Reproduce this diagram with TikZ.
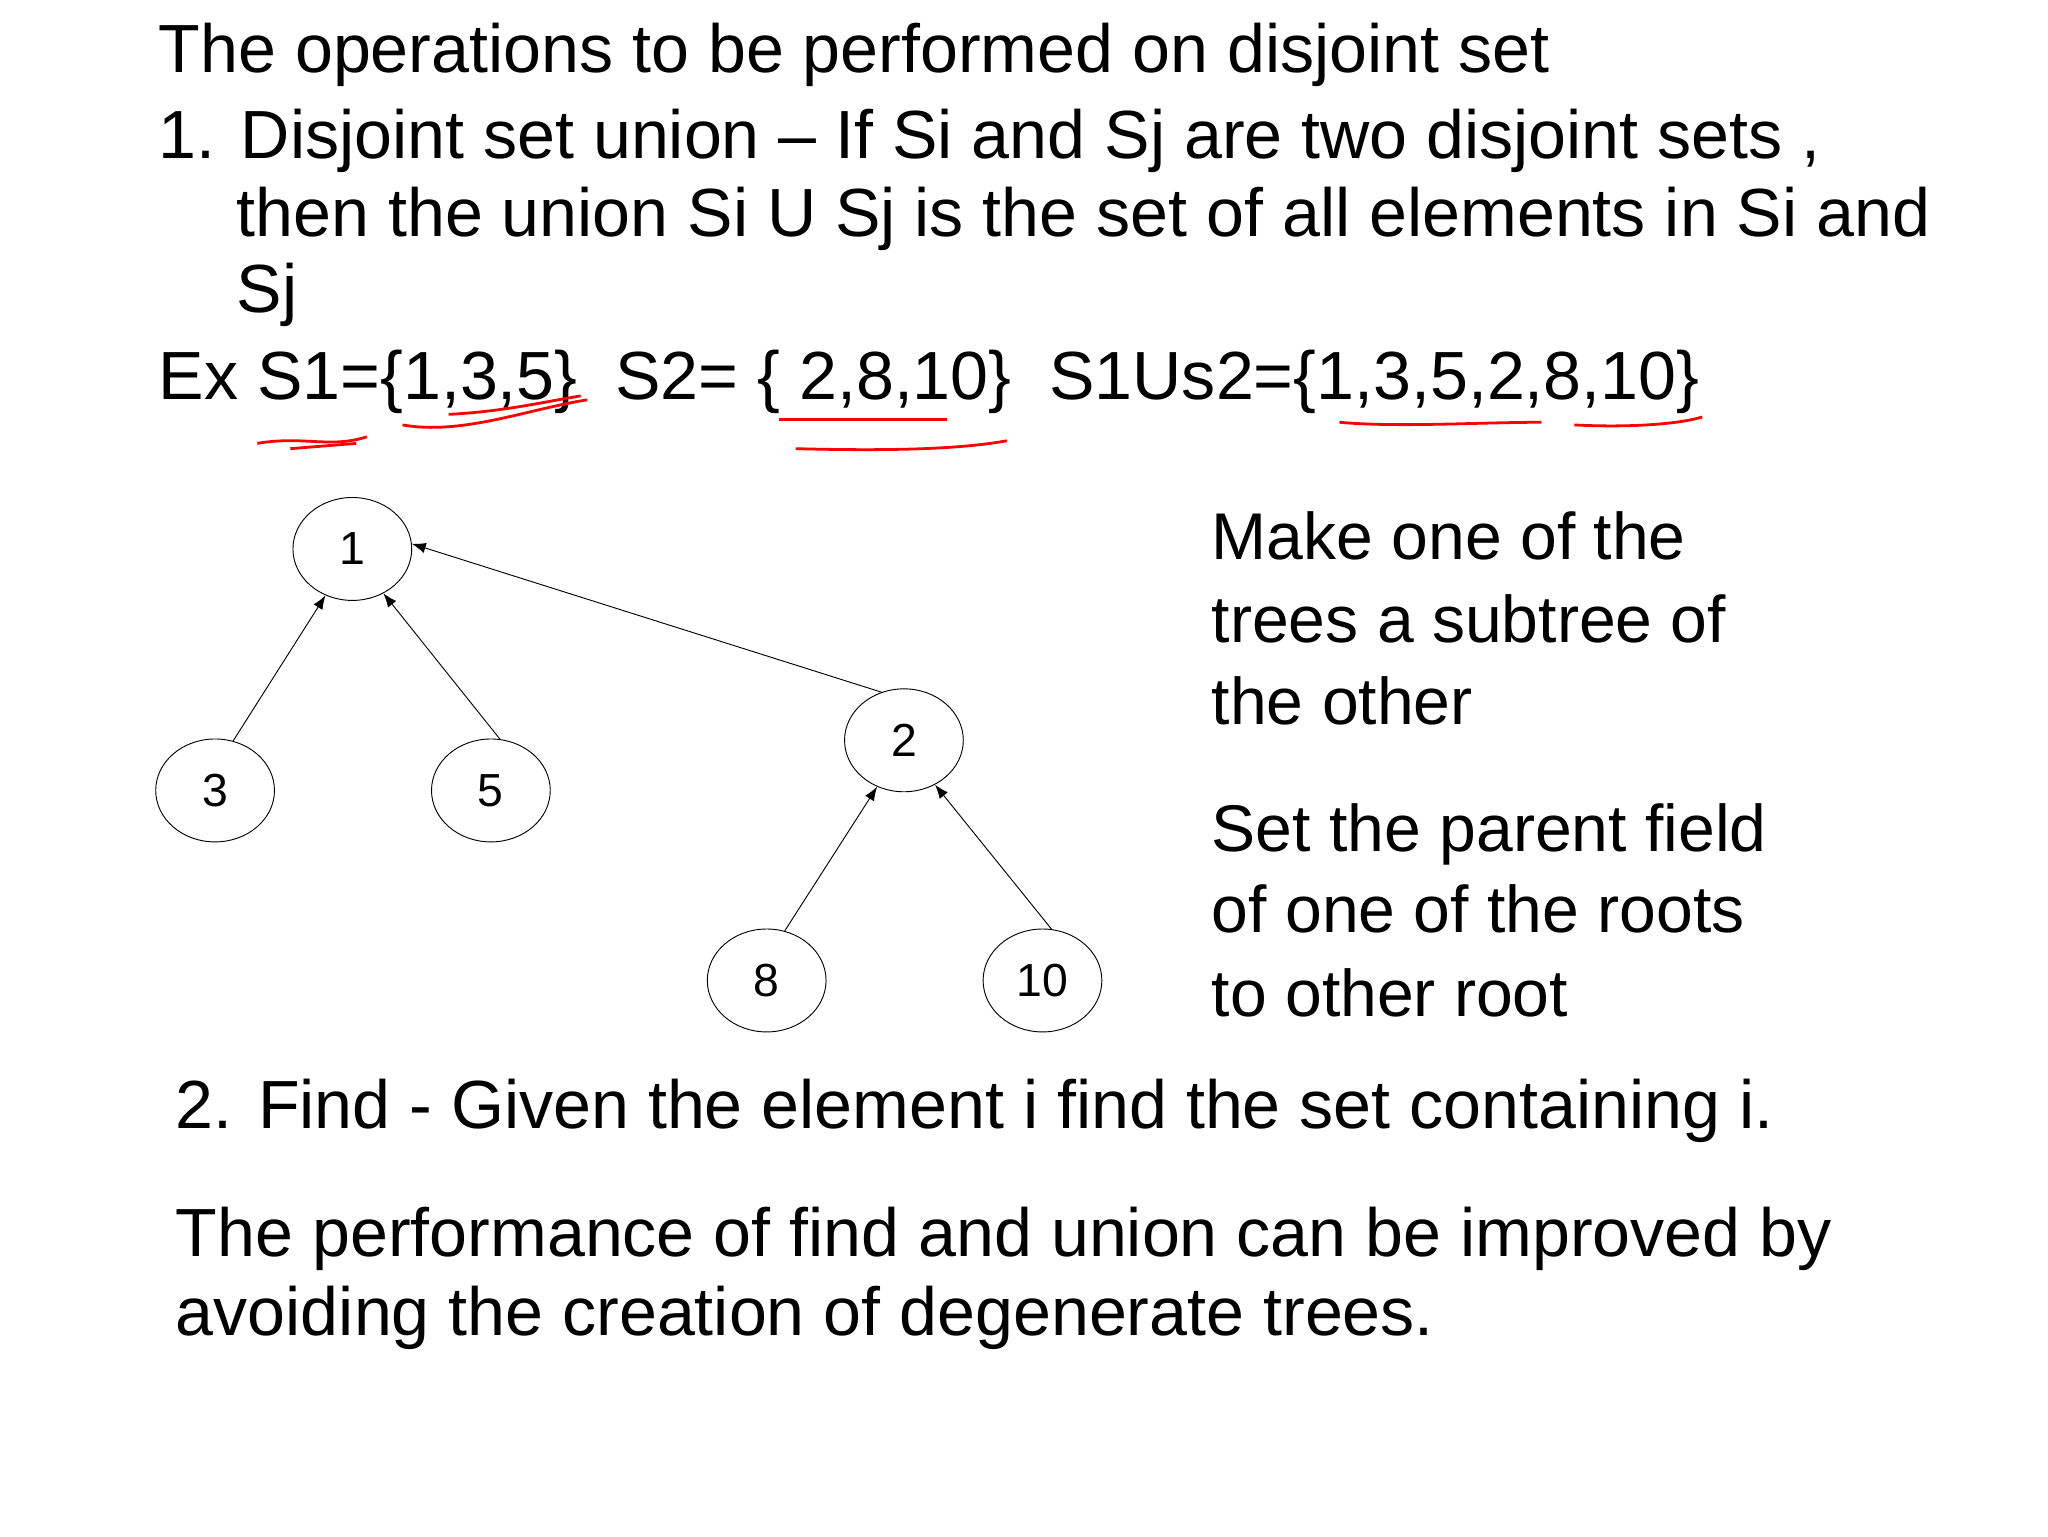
\documentclass[tikz,border=0pt]{standalone}
\usepackage{fontspec}
\setmainfont{Liberation Sans}
\usetikzlibrary{shapes.geometric,arrows.meta}
\begin{document}
\begin{tikzpicture}[x=0.02cm,y=-0.02cm,
  txt/.style={anchor=base west,inner sep=0pt,font=\fontsize{29.4}{33}\selectfont},
  rtxt/.style={anchor=base west,inner sep=0pt,font=\fontsize{28.5}{32}\selectfont},
  tn/.style={draw,ellipse,minimum width=90*0.02cm,minimum height=78*0.02cm,inner sep=0pt,font=\fontsize{20}{24}\selectfont},
  arr/.style={-{Latex[length=6pt,width=4.5pt]},thin},
  red/.style={draw=red,line width=1.2pt}]
\useasboundingbox (0,0) rectangle (1552,1164);
\node[txt] (t0) at (120,55) {The operations to be performed on disjoint set};
\node[txt] (t1) at (120,120) {1. Disjoint set union -- If Si and Sj are two disjoint sets ,};
\node[txt] (t2) at (179,179) {then the union Si U Sj is the set of all elements in Si and};
\node[txt] (t3) at (179,237) {Sj};
\node[txt] (t4) at (120,303) {Ex S1=\{1,3,5\}\ \ S2= \{ 2,8,10\}\ \ S1Us2=\{1,3,5,2,8,10\}};
% red underlines
\draw[red] (195,336) .. controls (230,330) and (250,340) .. (278,331);
\draw[red] (220,340) -- (270,336);
\draw[red] (305,322) .. controls (350,330) and (400,310) .. (445,303);
\draw[red] (340,314) .. controls (380,312) and (410,305) .. (440,300);
\draw[red] (590,318) -- (718,318);
\draw[red] (603,340) .. controls (680,342) and (730,340) .. (763,334);
\draw[red] (1015,320) .. controls (1060,324) and (1120,320) .. (1168,320);
\draw[red] (1193,322) .. controls (1230,324) and (1270,322) .. (1290,316);
% tree
\node[tn] (n1) at (267,416) {1};
\node[tn] (n3) at (163,599) {3};
\node[tn] (n5) at (372,599) {5};
\node[tn] (n2) at (685,561) {2};
\node[tn] (n8) at (581,743) {8};
\node[tn] (n10) at (790,743) {10};
\draw[arr] (n3.70) -- (n1.240);
\draw[arr] (n5.80) -- (n1.305);
\draw[arr] (n2.115) -- (n1.5);
\draw[arr] (n8.70) -- (n2.240);
\draw[arr] (n10.80) -- (n2.305);
% right text
\node[rtxt] (r1) at (918,424) {Make one of the};
\node[rtxt] (r2) at (918,487) {trees a subtree of};
\node[rtxt] (r3) at (918,549) {the other};
\node[rtxt] (r4) at (918,645) {Set the parent field};
\node[rtxt] (r5) at (918,707) {of one of the roots};
\node[rtxt] (r6) at (918,770) {to other root};
% bottom
\node[txt] (b1) at (133,855) {2. Find - Given the element i find the set containing i.};
\node[txt] (b2) at (133,952) {The performance of find and union can be improved by};
\node[txt] (b3) at (133,1012) {avoiding the creation of degenerate trees.};
\end{tikzpicture}
\end{document}
